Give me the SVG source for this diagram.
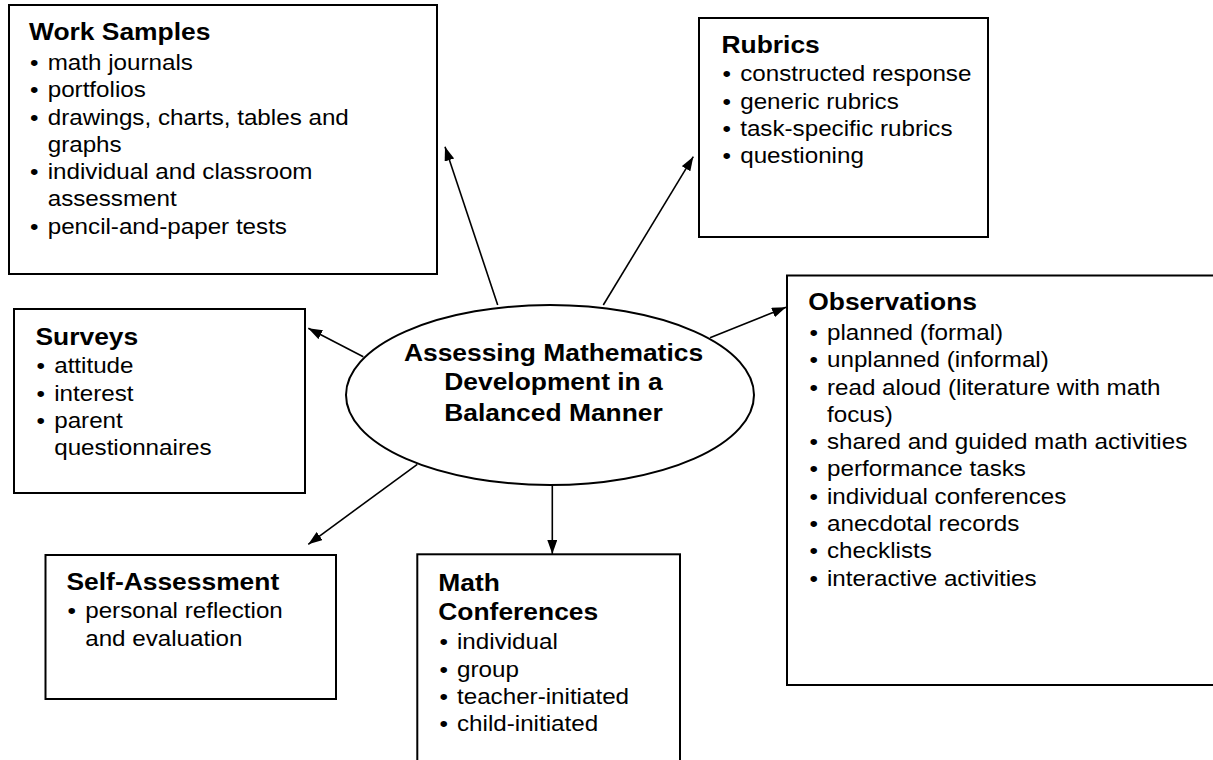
<svg xmlns="http://www.w3.org/2000/svg" width="1213" height="760" viewBox="0 0 1213 760">
<style>
.box{fill:#fff;stroke:#000;stroke-width:2}
.t{font-family:"Liberation Sans",Arial,sans-serif;font-size:24px;font-weight:bold;fill:#000}
.b{font-family:"Liberation Sans",Arial,sans-serif;font-size:22px;fill:#000}
.c{font-family:"Liberation Sans",Arial,sans-serif;font-size:24px;font-weight:bold;fill:#000;text-anchor:middle}
.conn line{stroke:#000;stroke-width:1.6;marker-end:url(#ah)}
</style>
<defs>
<marker id="ah" markerUnits="userSpaceOnUse" markerWidth="15" markerHeight="11" refX="14" refY="5" orient="auto">
<path d="M0,0 L14,5 L0,10 z" fill="#000"/>
</marker>
</defs>
<rect width="1213" height="760" fill="#fff"/>

<g id="work-samples">
<rect class="box" x="9" y="5" width="428" height="269"/>
<g transform="translate(29,0) scale(1.1,1)">
<text class="t" x="0" y="40">Work Samples</text>
<text class="b"><tspan x="1" y="70">•</tspan><tspan x="17" y="70">math journals</tspan><tspan x="1" y="97.3">•</tspan><tspan x="17" y="97.3">portfolios</tspan><tspan x="1" y="124.6">•</tspan><tspan x="17" y="124.6">drawings, charts, tables and</tspan><tspan x="17" y="151.9">graphs</tspan><tspan x="1" y="179.2">•</tspan><tspan x="17" y="179.2">individual and classroom</tspan><tspan x="17" y="206.5">assessment</tspan><tspan x="1" y="233.8">•</tspan><tspan x="17" y="233.8">pencil-and-paper tests</tspan></text>
</g>
</g>

<g id="rubrics">
<rect class="box" x="699" y="18" width="289" height="219"/>
<g transform="translate(721.5,0) scale(1.1,1)">
<text class="t" x="0" y="53">Rubrics</text>
<text class="b"><tspan x="1" y="81.5">•</tspan><tspan x="17" y="81.5">constructed response</tspan><tspan x="1" y="108.8">•</tspan><tspan x="17" y="108.8">generic rubrics</tspan><tspan x="1" y="136.1">•</tspan><tspan x="17" y="136.1">task-specific rubrics</tspan><tspan x="1" y="163.4">•</tspan><tspan x="17" y="163.4">questioning</tspan></text>
</g>
</g>

<g id="surveys">
<rect class="box" x="14" y="309" width="291" height="184"/>
<g transform="translate(35.5,0) scale(1.1,1)">
<text class="t" x="0" y="345">Surveys</text>
<text class="b"><tspan x="1" y="373.3">•</tspan><tspan x="17" y="373.3">attitude</tspan><tspan x="1" y="400.6">•</tspan><tspan x="17" y="400.6">interest</tspan><tspan x="1" y="427.9">•</tspan><tspan x="17" y="427.9">parent</tspan><tspan x="17" y="455.2">questionnaires</tspan></text>
</g>
</g>

<g id="center">
<ellipse cx="550" cy="395" rx="204" ry="90" fill="#fff" stroke="#000" stroke-width="2"/>
<g transform="translate(553.5,0) scale(1.1,1)">
<text class="c"><tspan x="0" y="361">Assessing Mathematics</tspan><tspan x="0" y="390.5">Development in a</tspan><tspan x="0" y="421">Balanced Manner</tspan></text>
</g>
</g>

<g id="observations">
<rect class="box" x="787" y="275.5" width="440" height="409.5"/>
<g transform="translate(808.3,0) scale(1.1,1)">
<text class="t" x="0" y="310.5">Observations</text>
<text class="b"><tspan x="1" y="340">•</tspan><tspan x="17" y="340">planned (formal)</tspan><tspan x="1" y="367.3">•</tspan><tspan x="17" y="367.3">unplanned (informal)</tspan><tspan x="1" y="394.6">•</tspan><tspan x="17" y="394.6">read aloud (literature with math</tspan><tspan x="17" y="421.9">focus)</tspan><tspan x="1" y="449.2">•</tspan><tspan x="17" y="449.2">shared and guided math activities</tspan><tspan x="1" y="476.5">•</tspan><tspan x="17" y="476.5">performance tasks</tspan><tspan x="1" y="503.8">•</tspan><tspan x="17" y="503.8">individual conferences</tspan><tspan x="1" y="531.1">•</tspan><tspan x="17" y="531.1">anecdotal records</tspan><tspan x="1" y="558.4">•</tspan><tspan x="17" y="558.4">checklists</tspan><tspan x="1" y="585.7">•</tspan><tspan x="17" y="585.7">interactive activities</tspan></text>
</g>
</g>

<g id="self-assessment">
<rect class="box" x="45.5" y="555" width="290.5" height="144"/>
<g transform="translate(66.5,0) scale(1.1,1)">
<text class="t" x="0" y="590">Self-Assessment</text>
<text class="b"><tspan x="1" y="618.3">•</tspan><tspan x="17" y="618.3">personal reflection</tspan><tspan x="17" y="645.6">and evaluation</tspan></text>
</g>
</g>

<g id="math-conferences">
<rect class="box" x="417.3" y="554.3" width="262.7" height="230"/>
<g transform="translate(438.3,0) scale(1.1,1)">
<text class="t"><tspan x="0" y="591">Math</tspan><tspan x="0" y="620">Conferences</tspan></text>
<text class="b"><tspan x="1" y="649.3">•</tspan><tspan x="17" y="649.3">individual</tspan><tspan x="1" y="676.6">•</tspan><tspan x="17" y="676.6">group</tspan><tspan x="1" y="703.9">•</tspan><tspan x="17" y="703.9">teacher-initiated</tspan><tspan x="1" y="731.2">•</tspan><tspan x="17" y="731.2">child-initiated</tspan></text>
</g>
</g>

<g id="connectors" class="conn">
<line x1="497.7" y1="305" x2="445" y2="146.7"/>
<line x1="603.3" y1="305" x2="693.3" y2="156.7"/>
<line x1="363.3" y1="356.7" x2="308.3" y2="328.3"/>
<line x1="710" y1="337.7" x2="786" y2="307.3"/>
<line x1="417.3" y1="464.3" x2="308.3" y2="544.3"/>
<line x1="552.3" y1="485" x2="552.3" y2="554"/>
</g>
</svg>
